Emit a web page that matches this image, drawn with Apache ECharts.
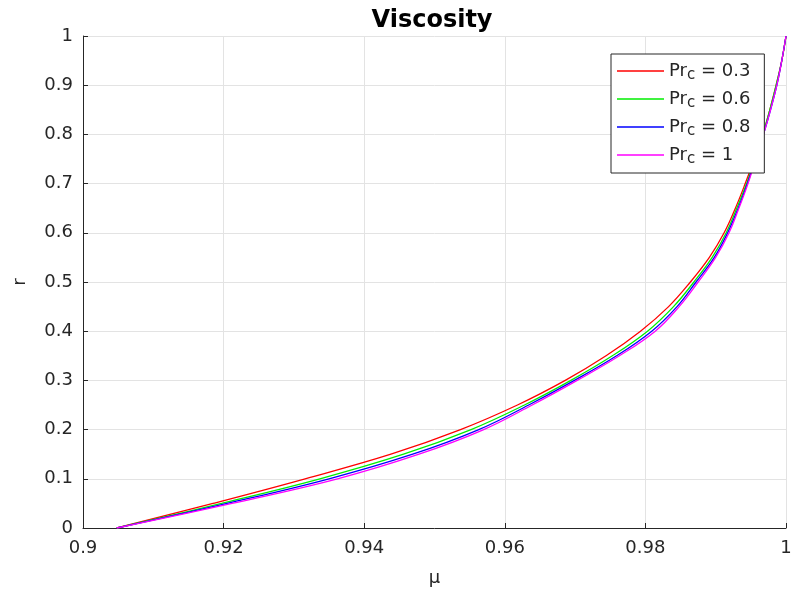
<!DOCTYPE html>
<html>
<head>
<meta charset="utf-8">
<script src="https://cdn.jsdelivr.net/npm/echarts@6/dist/echarts.min.js"></script>
<style>
  html, body { margin: 0; padding: 0; background: #fff; }
  #chart { width: 795px; height: 590px; }
</style>
</head>
<body>
<div id="chart"></div>
<script>
// Radius levels shared by all curves
const rLevels = [0, 0.05, 0.1, 0.15, 0.2, 0.25, 0.3, 0.35, 0.4, 0.45, 0.5,
                 0.55, 0.6, 0.65, 0.7, 0.75, 0.8, 0.85, 0.9, 0.95, 1];

// Viscosity mu at each radius level, one array per Prandtl number
const muPr03 = [0.9048, 0.9185, 0.9316, 0.9438, 0.9537, 0.9618, 0.9686, 0.9744, 0.9793, 0.9833, 0.9864,
                0.9891, 0.9912, 0.9928, 0.9942, 0.9955, 0.9967, 0.9977, 0.9986, 0.9994, 1.0];
const muPr06 = [0.9048, 0.9197, 0.9337, 0.9456, 0.9552, 0.9628, 0.9694, 0.9753, 0.9803, 0.9840, 0.9869,
                0.9895, 0.9915, 0.9930, 0.9944, 0.9956, 0.9967, 0.9977, 0.9986, 0.9994, 1.0];
const muPr08 = [0.9048, 0.9205, 0.9350, 0.9469, 0.9563, 0.9634, 0.9699, 0.9759, 0.9809, 0.9845, 0.9872,
                0.9898, 0.9917, 0.9932, 0.9945, 0.9957, 0.9968, 0.9978, 0.9987, 0.9994, 1.0];
const muPr10 = [0.9048, 0.9212, 0.9362, 0.9478, 0.9570, 0.9639, 0.9703, 0.9763, 0.9814, 0.9848, 0.9875,
                0.9900, 0.9919, 0.9933, 0.9946, 0.9957, 0.9968, 0.9978, 0.9987, 0.9994, 1.0];

const seriesNames = ['0.3', '0.6', '0.8', '1'];
const seriesColors = ['#ff0000', '#00ee00', '#0000ff', '#ff00ff'];
const seriesMu = [muPr03, muPr06, muPr08, muPr10];

const xTicks = [0.9, 0.92, 0.94, 0.96, 0.98, 1];
const yTicks = [0, 0.1, 0.2, 0.3, 0.4, 0.5, 0.6, 0.7, 0.8, 0.9, 1];

const FONT = 'DejaVu Sans';
const textColor = '#262626';
const axisColor = '#262626';
const gridColor = '#e3e3e3';

const chart = echarts.init(document.getElementById('chart'), null, { renderer: 'canvas' });

const series = seriesNames.map((n, i) => ({
  name: n,
  type: 'line',
  symbol: 'none',
  smooth: 0.4,
  lineStyle: { color: seriesColors[i], width: 1.3 },
  itemStyle: { color: seriesColors[i] },
  data: rLevels.map((r, k) => [seriesMu[i][k], r])
}));

chart.setOption({
  animation: false,
  backgroundColor: '#ffffff',
  title: {
    text: 'Viscosity',
    left: 427, top: 4, textAlign: 'center',
    textStyle: { fontFamily: FONT, fontSize: 24, fontWeight: 'bold', color: '#000' }
  },
  grid: { left: 83, right: 9, top: 36, bottom: 62, containLabel: false, outerBoundsMode: 'none' },
  legend: {
    left: 611, top: 54,
    orient: 'vertical',
    backgroundColor: '#ffffff',
    borderColor: axisColor, borderWidth: 1, borderRadius: 0,
    padding: [5, 14, 6, 6],
    icon: 'rect',
    itemWidth: 47, itemHeight: 1.5, itemGap: 4,
    data: seriesNames,
    formatter: name => '{n|Pr}{s|c}{n| = ' + name + '}',
    textStyle: {
      fontFamily: FONT, color: textColor,
      rich: {
        n: { fontFamily: FONT, fontSize: 18, color: textColor, lineHeight: 20 },
        s: { fontFamily: FONT, fontSize: 15, color: textColor, padding: [9, 0, 0, 0], lineHeight: 12 }
      }
    }
  },
  xAxis: {
    type: 'value', min: 0.9, max: 1, interval: 0.02,
    name: 'μ', nameLocation: 'middle', nameGap: 41,
    nameTextStyle: { fontFamily: FONT, fontSize: 18, color: textColor },
    axisLine: { show: true, onZero: false, lineStyle: { color: axisColor, width: 1 } },
    axisTick: { show: true, inside: true, length: 5, lineStyle: { color: axisColor } },
    axisLabel: {
      fontFamily: FONT, fontSize: 18, color: textColor, margin: 11,
      formatter: v => xTicks.find(t => Math.abs(t - v) < 1e-9) !== undefined ? String(+v.toFixed(2)) : ''
    },
    splitLine: { show: true, lineStyle: { color: gridColor, width: 1 } }
  },
  yAxis: {
    type: 'value', min: 0, max: 1, interval: 0.1,
    name: 'r', nameLocation: 'middle', nameGap: 54, nameRotate: 90,
    nameTextStyle: { fontFamily: FONT, fontSize: 18, color: textColor },
    axisLine: { show: true, onZero: false, lineStyle: { color: axisColor, width: 1 } },
    axisTick: { show: true, inside: true, length: 5, lineStyle: { color: axisColor } },
    axisLabel: {
      fontFamily: FONT, fontSize: 18, color: textColor, margin: 10,
      formatter: v => yTicks.find(t => Math.abs(t - v) < 1e-9) !== undefined ? String(+v.toFixed(1)) : ''
    },
    splitLine: { show: true, lineStyle: { color: gridColor, width: 1 } }
  },
  series: series
});
</script>
</body>
</html>
